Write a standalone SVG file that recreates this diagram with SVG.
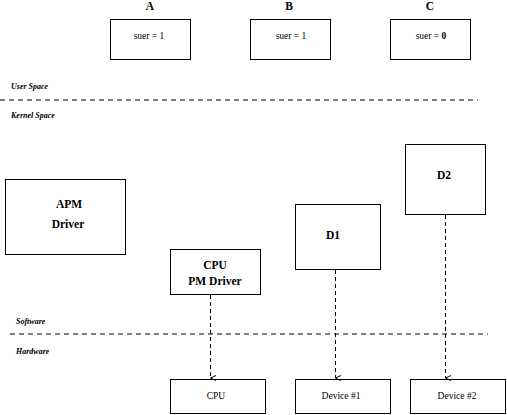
<svg xmlns="http://www.w3.org/2000/svg" width="507" height="415" viewBox="0 0 507 415">
<defs>
<style>
.box{fill:#fff;stroke:#000;stroke-width:1}
.sep{stroke:#000;stroke-width:1;stroke-dasharray:5 4;fill:none}
.con{stroke:#000;stroke-width:1;stroke-dasharray:4 3;fill:none}
.t{font-family:"Liberation Serif","Times New Roman",serif;fill:#000;text-anchor:middle}
.lbl{font-size:11.5px;font-weight:bold}
.sm{font-size:9.5px}
.it{font-family:"Liberation Serif","Times New Roman",serif;font-size:8px;font-style:italic;font-weight:bold;fill:#000}
</style>
<marker id="arr" markerWidth="8" markerHeight="8" refX="4" refY="7" orient="auto" markerUnits="userSpaceOnUse" viewBox="0 0 8 8">
<path d="M1.5,1.5 L4,7 L6.5,1.5" fill="none" stroke="#000" stroke-width="1"/>
</marker>
</defs>
<rect width="507" height="415" fill="#fff"/>
<g id="sections">
<line class="sep" x1="0" y1="100" x2="478" y2="100"/>
<line class="sep" x1="10" y1="334" x2="488" y2="334"/>
<text class="it" x="11" y="89">User Space</text>
<text class="it" x="11" y="118">Kernel Space</text>
<text class="it" x="16" y="324">Software</text>
<text class="it" x="16" y="354">Hardware</text>
</g>
<g id="procA">
<text class="t lbl" x="150" y="10">A</text>
<rect class="box" x="110.5" y="19.5" width="80" height="40"/>
<text class="t sm" x="149" y="39">suer = 1</text>
</g>
<g id="procB">
<text class="t lbl" x="289" y="10">B</text>
<rect class="box" x="250.5" y="19.5" width="80" height="40"/>
<text class="t sm" x="291" y="39">suer = 1</text>
</g>
<g id="procC">
<text class="t lbl" x="430" y="10">C</text>
<rect class="box" x="390.5" y="19.5" width="80" height="40"/>
<text class="t sm" x="431" y="39">suer = <tspan font-weight="bold">0</tspan></text>
</g>
<g id="apm">
<rect class="box" x="5.5" y="179.5" width="120" height="75"/>
<text class="t lbl" x="69" y="208">APM</text>
<text class="t lbl" x="68" y="228">Driver</text>
</g>
<g id="cpupm">
<rect class="box" x="170.5" y="249.5" width="90" height="45"/>
<text class="t lbl" x="215" y="269">CPU</text>
<text class="t lbl" x="215" y="285">PM Driver</text>
</g>
<g id="d1">
<rect class="box" x="295.5" y="204.5" width="85" height="65"/>
<text class="t lbl" x="333" y="239">D1</text>
</g>
<g id="d2">
<rect class="box" x="405.5" y="144.5" width="80" height="70"/>
<text class="t lbl" x="444" y="179">D2</text>
</g>
<g id="cpu">
<rect class="box" x="170.5" y="379.5" width="95" height="34"/>
<text class="t sm" x="216" y="399">CPU</text>
</g>
<g id="dev1">
<rect class="box" x="295.5" y="379.5" width="95" height="34"/>
<text class="t sm" x="341" y="399">Device #1</text>
</g>
<g id="dev2">
<rect class="box" x="410.5" y="379.5" width="95" height="34"/>
<text class="t sm" x="457" y="399">Device #2</text>
</g>
<g id="connectors">
<line class="con" x1="210.5" y1="295" x2="210.5" y2="378" marker-end="url(#arr)"/>
<line class="con" x1="335.5" y1="270" x2="335.5" y2="378" marker-end="url(#arr)"/>
<line class="con" x1="445.5" y1="215" x2="445.5" y2="378" marker-end="url(#arr)"/>
</g>
</svg>
